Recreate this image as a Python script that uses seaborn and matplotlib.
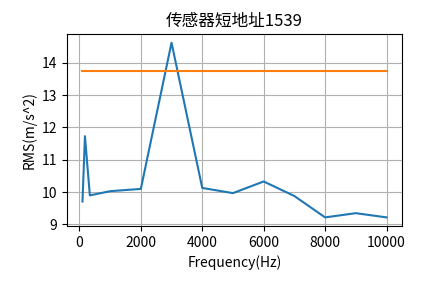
import matplotlib
matplotlib.use("Agg")
import matplotlib.pyplot as plt
import seaborn as sns
import pandas as pd

plt.rcParams['font.family'] = ['Noto Sans CJK SC', 'DejaVu Sans']
plt.rcParams['axes.unicode_minus'] = False

freq = [100, 180, 340, 1000, 2000, 3000, 4000, 5000, 6000, 7000, 8000, 9000, 10000]
rms = [9.71, 11.73, 9.90, 10.03, 10.10, 14.62, 10.13, 9.97, 10.33, 9.88, 9.22, 9.35, 9.22]
limit_freq = [100, 10000]
limit_val = [13.74, 13.74]

df = pd.DataFrame({"freq": freq, "rms": rms})
df_lim = pd.DataFrame({"freq": limit_freq, "rms": limit_val})

fig = plt.figure(figsize=(4.45, 2.83), dpi=100)
ax = fig.add_axes([0.1512, 0.201, 0.7515, 0.679])
sns.lineplot(data=df, x="freq", y="rms", ax=ax, color="#1f77b4", linewidth=1.5)
sns.lineplot(data=df_lim, x="freq", y="rms", ax=ax, color="#ff7f0e", linewidth=1.5)
ax.grid(True, color="#b0b0b0", linewidth=0.8)
ax.set_title("传感器短地址1539", fontsize=12)
ax.set_xlabel("Frequency(Hz)", fontsize=10)
ax.set_ylabel("RMS(m/s^2)", fontsize=10)
ax.tick_params(labelsize=10)
for s in ax.spines.values():
    s.set_color("black")
fig.savefig("out.png", dpi=100)
